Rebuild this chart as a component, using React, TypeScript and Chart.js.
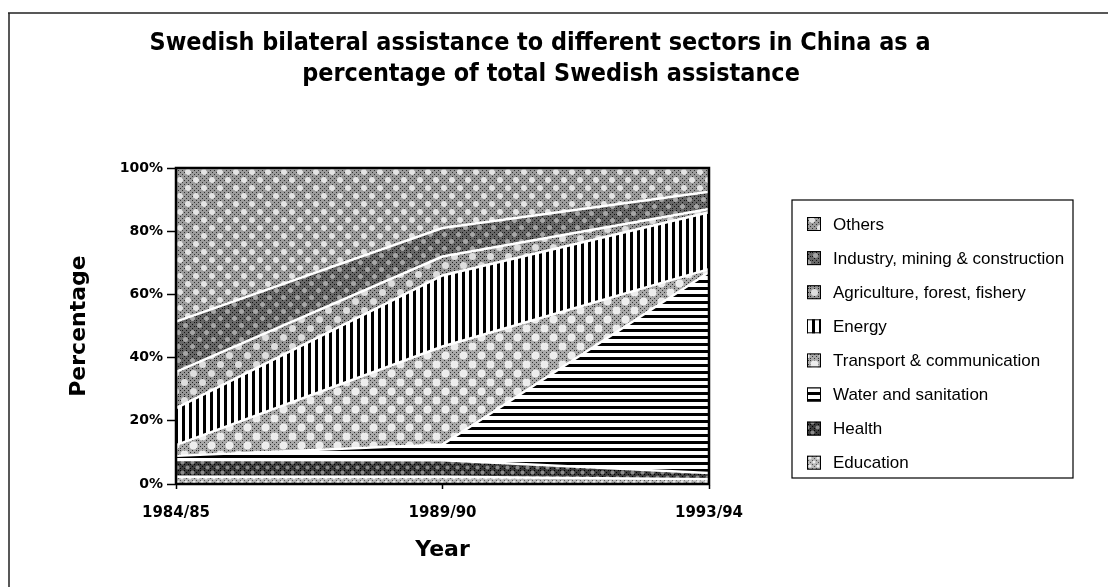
import React, { useEffect, useRef } from 'react';
import { Chart, registerables } from 'chart.js';

Chart.register(...registerables);

// ---- data (percent of total Swedish assistance) ----
const categories = ['1984/85', '1989/90', '1993/94'];
const education = [2.3, 2.3, 1.5];
const health = [5.3, 5.2, 2.0];
const water = [1.3, 5.0, 63.5];
const transport = [3.4, 31.0, 1.0];
const energy = [11.7, 22.5, 18.0];
const agriculture = [11.5, 6.0, 1.0];
const industry = [15.9, 9.0, 5.5];
const others = [48.6, 19.0, 7.5];

const seriesNames = [
  'Education',
  'Health',
  'Water and sanitation',
  'Transport & communication',
  'Energy',
  'Agriculture, forest, fishery',
  'Industry, mining & construction',
  'Others',
];
const seriesValues = [education, health, water, transport, energy, agriculture, industry, others];
const yTicks = [0, 20, 40, 60, 80, 100];

const titleLines = [
  'Swedish bilateral assistance to different sectors in China as a',
  'percentage of total Swedish assistance',
];

type PatternSpec =
  | { kind: 'blob'; base: string; dot: string; blob: string; r: number; tile: number }
  | { kind: 'vstripe' }
  | { kind: 'hstripe' };

const patternSpecs: PatternSpec[] = [
  { kind: 'blob', base: '#b6b6b6', dot: '#555', blob: '#eeeeee', r: 1.5, tile: 8 }, // Education
  { kind: 'blob', base: '#3c3c3c', dot: '#000', blob: '#8a8a8a', r: 2, tile: 10 }, // Health
  { kind: 'hstripe' }, // Water
  { kind: 'blob', base: '#a9a9a9', dot: '#333', blob: '#ededed', r: 4, tile: 18 }, // Transport
  { kind: 'vstripe' }, // Energy
  { kind: 'blob', base: '#969696', dot: '#222', blob: '#dedede', r: 3.5, tile: 18 }, // Agriculture
  { kind: 'blob', base: '#676767', dot: '#111', blob: '#a5a5a5', r: 2.5, tile: 14 }, // Industry
  { kind: 'blob', base: '#9c9c9c', dot: '#333', blob: '#e4e4e4', r: 3, tile: 16 }, // Others
];

function makePattern(spec: PatternSpec): CanvasPattern | string {
  const c = document.createElement('canvas');
  let ctx: CanvasRenderingContext2D | null;
  if (spec.kind === 'vstripe') {
    c.width = 7; c.height = 7;
    ctx = c.getContext('2d')!;
    ctx.fillStyle = '#fff'; ctx.fillRect(0, 0, 7, 7);
    ctx.fillStyle = '#000'; ctx.fillRect(0, 0, 3, 7);
  } else if (spec.kind === 'hstripe') {
    c.width = 7; c.height = 7;
    ctx = c.getContext('2d')!;
    ctx.fillStyle = '#fff'; ctx.fillRect(0, 0, 7, 7);
    ctx.fillStyle = '#000'; ctx.fillRect(0, 0, 7, 3);
  } else {
    const t = spec.tile;
    c.width = t; c.height = t;
    ctx = c.getContext('2d')!;
    ctx.fillStyle = spec.base; ctx.fillRect(0, 0, t, t);
    ctx.fillStyle = spec.dot;
    for (let y = 0; y < t; y += 2) {
      for (let x = 0; x < t; x += 2) {
        if ((x + y) % 4 === 0) ctx.fillRect(x, y, 1, 1);
      }
    }
    ctx.fillStyle = spec.blob;
    ctx.beginPath(); ctx.arc(t / 4, t / 4, spec.r, 0, Math.PI * 2); ctx.fill();
    ctx.beginPath(); ctx.arc((3 * t) / 4, (3 * t) / 4, spec.r, 0, Math.PI * 2); ctx.fill();
  }
  const p = ctx!.createPattern(c, 'repeat');
  return p || '#999';
}

const Y_TICK_FONT = { family: "'DejaVu Sans', sans-serif", weight: 'bold' as const, size: 14 };
const X_TICK_FONT = { family: "'DejaVu Sans', sans-serif", weight: 'bold' as const, size: 15 };
const AXIS_TITLE_FONT = { family: "'DejaVu Sans', sans-serif", weight: 'bold' as const, size: 22 };

export default function App() {
  const ref = useRef<HTMLCanvasElement>(null);

  useEffect(() => {
    const canvas = ref.current!;
    const fills = patternSpecs.map(makePattern);

    const decor = {
      id: 'decor',
      afterDraw(chart: any) {
        const ctx: CanvasRenderingContext2D = chart.ctx;
        const { left, top, right, bottom } = chart.chartArea;
        ctx.save();
        // plot frame
        ctx.strokeStyle = '#000';
        ctx.lineWidth = 2.5;
        ctx.strokeRect(left, top, right - left, bottom - top);

        // page frame lines (top and left)
        ctx.strokeStyle = '#222';
        ctx.lineWidth = 1.5;
        ctx.beginPath();
        ctx.moveTo(8, 13); ctx.lineTo(1108, 13);
        ctx.moveTo(9, 13); ctx.lineTo(9, 587);
        ctx.stroke();

        // title
        ctx.fillStyle = '#000';
        ctx.textAlign = 'center';
        ctx.textBaseline = 'alphabetic';
        ctx.font = "bold 24px 'Liberation Sans Narrow', 'DejaVu Sans Condensed', 'Liberation Sans', sans-serif";
        const w1 = ctx.measureText(titleLines[0]).width;
        const sx = 781 / w1;
        const centers = [540, 551];
        const baselines = [50, 81];
        titleLines.forEach((line, i) => {
          ctx.save();
          ctx.translate(centers[i], baselines[i]);
          ctx.scale(sx, 1);
          ctx.fillText(line, 0, 0);
          ctx.restore();
        });

        // legend
        const bx = 792, by = 200, bw = 281, bh = 278;
        ctx.fillStyle = '#fff';
        ctx.fillRect(bx, by, bw, bh);
        ctx.strokeStyle = '#000';
        ctx.lineWidth = 1.2;
        ctx.strokeRect(bx, by, bw, bh);
        ctx.font = "17px 'Liberation Sans', Arial, sans-serif";
        ctx.textAlign = 'left';
        ctx.textBaseline = 'middle';
        const n = seriesNames.length;
        for (let k = 0; k < n; k++) {
          const idx = n - 1 - k;
          const cy = 224 + k * 34.1;
          ctx.fillStyle = fills[idx] as any;
          ctx.fillRect(807, cy - 7, 14, 14);
          ctx.strokeStyle = '#000';
          ctx.lineWidth = 1;
          ctx.strokeRect(807.5, cy - 6.5, 13, 13);
          ctx.fillStyle = '#000';
          ctx.fillText(seriesNames[idx], 833, cy + 1);
        }
        ctx.restore();
      },
    };

    const chart = new Chart(canvas, {
      type: 'line',
      data: {
        labels: categories,
        datasets: seriesValues.map((vals, i) => ({
          label: seriesNames[i],
          data: vals,
          backgroundColor: fills[i] as any,
          borderColor: '#ffffff',
          borderWidth: 2.5,
          pointRadius: 0,
          tension: 0,
          fill: i === 0 ? 'origin' : '-1',
        })),
      },
      options: {
        responsive: false,
        animation: false,
        devicePixelRatio: 1,
        layout: { padding: { left: 66, right: 399, top: 168, bottom: 20 } },
        plugins: {
          legend: { display: false },
          title: { display: false },
          tooltip: { enabled: false },
        },
        scales: {
          x: {
            type: 'category',
            offset: false,
            afterFit: (s: any) => { s.height = 83; },
            grid: { drawOnChartArea: false, drawTicks: true, tickLength: 5, tickColor: '#000', tickWidth: 1.5 },
            border: { display: true, color: '#000', width: 2 },
            ticks: { color: '#000', font: X_TICK_FONT, padding: 15, maxRotation: 0, autoSkip: false },
            title: { display: true, text: 'Year', color: '#000', font: AXIS_TITLE_FONT, padding: { top: 0, bottom: 4 } },
          },
          y: {
            stacked: true,
            min: 0,
            max: 100,
            afterFit: (s: any) => { s.width = 110; },
            afterBuildTicks: (s: any) => { s.ticks = yTicks.map((v) => ({ value: v })); },
            grid: { drawOnChartArea: false, drawTicks: true, tickLength: 9, tickColor: '#000', tickWidth: 1.5 },
            border: { display: true, color: '#000', width: 3 },
            ticks: { color: '#000', font: Y_TICK_FONT, padding: 4, callback: (v: any) => `${v}%` },
            title: { display: true, text: 'Percentage', color: '#000', font: AXIS_TITLE_FONT, padding: { top: 0, bottom: 0 } },
          },
        },
      },
      plugins: [decor],
    });

    return () => chart.destroy();
  }, []);

  return (
    <div style={{ position: 'absolute', left: 0, top: 0, width: 1108, height: 587, background: '#fff' }}>
      <canvas ref={ref} width={1108} height={587} style={{ display: 'block', width: 1108, height: 587 }} />
    </div>
  );
}
